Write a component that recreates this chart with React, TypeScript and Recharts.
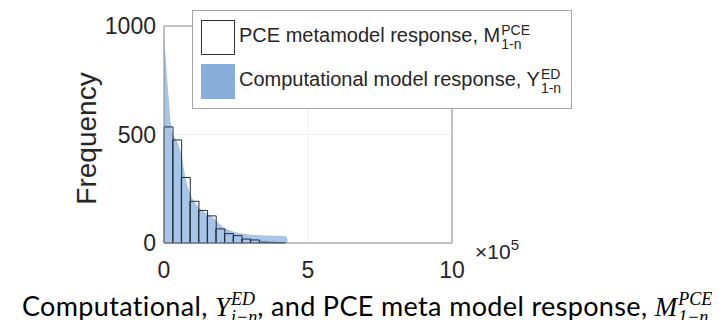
import {
  ComposedChart, Bar, Area, XAxis, YAxis, CartesianGrid, ReferenceLine,
} from "recharts";

// x values are in units of 10^5
const binCenters = [0.15, 0.45, 0.75, 1.05, 1.35, 1.65, 1.95, 2.25, 2.55, 2.85, 3.15, 3.45, 3.75, 4.05];
const pceCounts = [535, 475, 302, 192, 150, 125, 65, 43, 34, 18, 14, 4, 3, 2];

const edX = [0, 0.06, 0.12, 0.18, 0.23, 0.3, 0.45, 0.6, 0.75, 0.9, 1.05, 1.2, 1.35, 1.5, 1.65, 1.8, 1.95, 2.1, 2.3, 2.6, 2.9, 3.2, 3.6, 4.0, 4.25, 4.3];
const edCounts = [950, 850, 740, 640, 560, 505, 470, 410, 300, 230, 190, 165, 148, 135, 122, 105, 85, 70, 58, 46, 40, 37, 35, 33, 30, 0];

const xTicks = [0, 5, 10];
const yTicks = [0, 500, 1000];

const bins = binCenters.map((x, i) => ({ x, pce: pceCounts[i] }));
const edData = edX.map((x, i) => ({ x, ed: edCounts[i] }));

const sans = "'Liberation Sans', Arial, sans-serif";
const tickFont = { fontSize: 23, fill: "#262626", fontFamily: sans };
const axisGray = "#8c8c8c";

// stacked superscript / subscript after a base letter
const SupSub = ({ sup, sub, size, lift }: { sup: string; sub: string; size: number; lift: number }) => (
  <span
    style={{
      display: "inline-flex",
      flexDirection: "column",
      fontSize: size,
      lineHeight: `${size}px`,
      verticalAlign: `${lift}px`,
      marginLeft: 1,
    }}
  >
    <span>{sup}</span>
    <span>{sub}</span>
  </span>
);

const LegendBox = () => (
  <div
    style={{
      position: "absolute",
      left: 184,
      top: 2,
      background: "#fff",
      border: "1px solid #a6a6a6",
      padding: "8px 10px 9px 8px",
      fontFamily: sans,
      fontSize: 20,
      color: "#262626",
      whiteSpace: "nowrap",
      lineHeight: "22px",
    }}
  >
    <div style={{ display: "flex", alignItems: "center", height: 36, marginBottom: 8 }}>
      <span style={{ width: 34, height: 35, border: "1px solid #333", boxSizing: "border-box", marginRight: 4, background: "#fff", flex: "none" }} />
      <span>
        PCE metamodel response, M<SupSub sup="PCE" sub="1-n" size={14} lift={7} />
      </span>
    </div>
    <div style={{ display: "flex", alignItems: "center", height: 36 }}>
      <span style={{ width: 34, height: 35, background: "#8aaedb", marginRight: 4, flex: "none" }} />
      <span>
        Computational model response, Y<SupSub sup="ED" sub="1-n" size={14} lift={7} />
      </span>
    </div>
  </div>
);

const MathSym = ({ base, sup, sub }: { base: string; sup: string; sub: string }) => (
  <span style={{ fontFamily: "'Liberation Serif', 'DejaVu Serif', serif", fontStyle: "italic", letterSpacing: 0 }}>
    {base}
    <SupSub sup={sup} sub={sub} size={18} lift={11} />
  </span>
);

export default function App() {
  return (
    <div style={{ position: "relative", width: 708, height: 312, background: "#fff" }}>
      <ComposedChart
        width={708}
        height={290}
        data={bins}
        margin={{ top: 18, right: 264, left: 0, bottom: 5 }}
        barCategoryGap={0}
        barGap={0}
      >
        <CartesianGrid xAxisId="main" stroke="#eeeeee" />
        <XAxis
          xAxisId="main"
          type="number"
          dataKey="x"
          domain={[0, 10]}
          ticks={xTicks}
          height={50}
          axisLine={{ stroke: axisGray }}
          tickLine={false}
          tickSize={0}
          tickMargin={19}
          tick={tickFont}
          allowDataOverflow
        />
        <XAxis xAxisId="bins" orientation="top" type="number" dataKey="x" domain={[0, 10]} hide />
        <YAxis
          type="number"
          domain={[0, 1000]}
          ticks={yTicks}
          width={156}
          axisLine={{ stroke: axisGray }}
          tickLine={false}
          tickSize={0}
          tickMargin={8}
          tick={tickFont}
          label={{ value: "Frequency", angle: -90, position: "center", dy: 4, style: { ...tickFont, fontSize: 28 } }}
        />
        <ReferenceLine xAxisId="main" y={1000} stroke={axisGray} />
        <ReferenceLine xAxisId="main" x={10} stroke={axisGray} />
        <Area
          xAxisId="main"
          data={edData}
          dataKey="ed"
          type="monotone"
          stroke="none"
          fill="#7aa6dc"
          fillOpacity={0.65}
          isAnimationActive={false}
        />
        <Bar
          xAxisId="bins"
          dataKey="pce"
          fill="none"
          stroke="#1f2d3d"
          strokeWidth={1}
          isAnimationActive={false}
        />
      </ComposedChart>
      <LegendBox />
      <div
        style={{
          position: "absolute",
          left: 467,
          top: 228,
          fontFamily: sans,
          fontSize: 21,
          color: "#262626",
        }}
      >
        ×10<span style={{ fontSize: 15, verticalAlign: "9px" }}>5</span>
      </div>
      <div
        style={{
          position: "absolute",
          left: 14,
          top: 282,
          whiteSpace: "nowrap",
          fontFamily: "Lato, 'Noto Sans', sans-serif",
          fontSize: 27,
          letterSpacing: "0.35px",
          lineHeight: "30px",
          color: "#000",
        }}
      >
        Computational, <MathSym base="Y" sup="ED" sub="i−n" />, and PCE meta model response,{" "}
        <MathSym base="M" sup="PCE" sub="1−n" />
      </div>
    </div>
  );
}
